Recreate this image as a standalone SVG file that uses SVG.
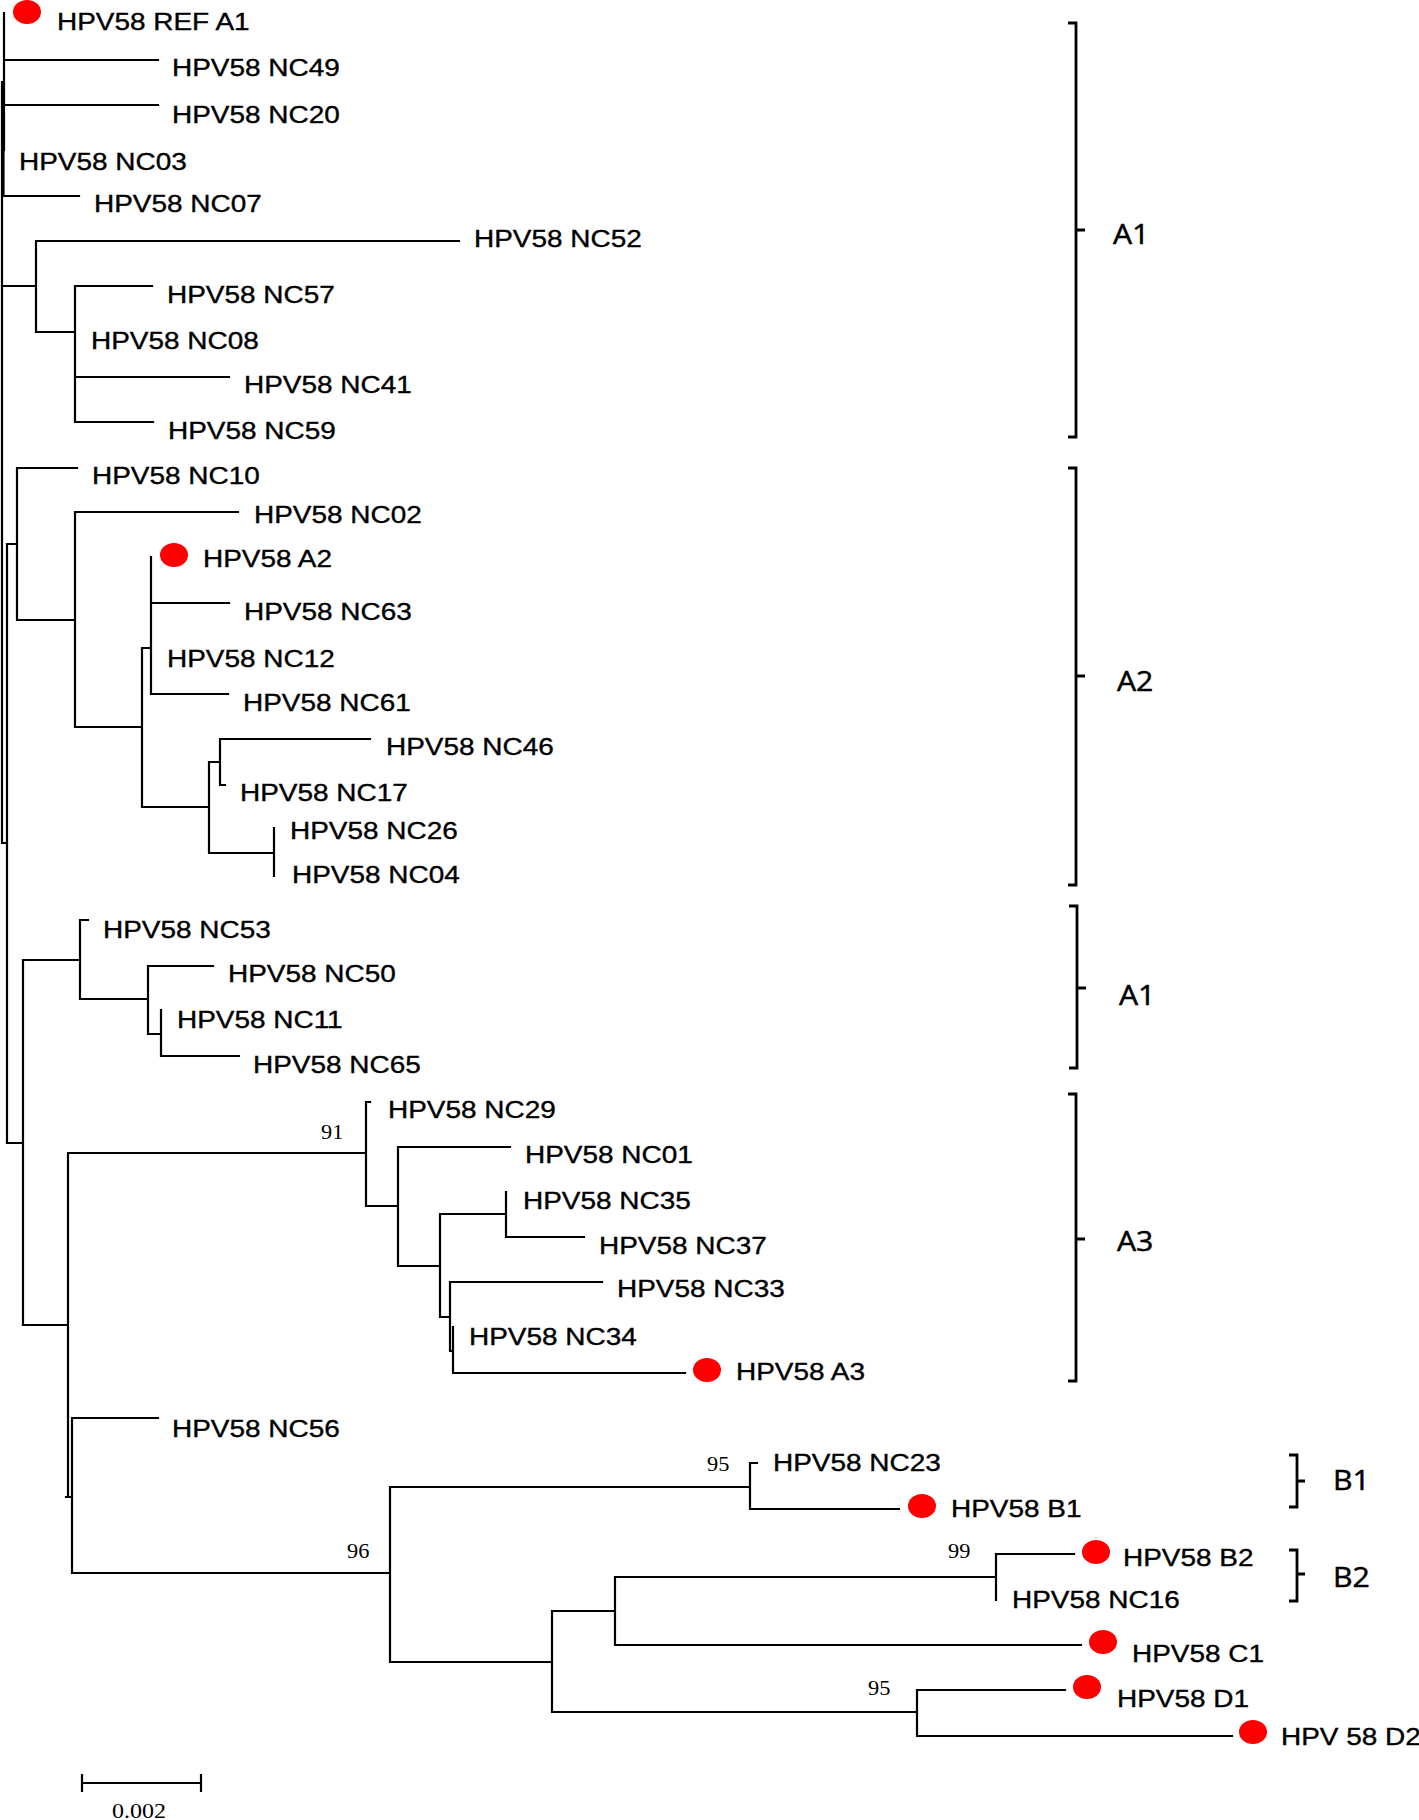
<svg xmlns="http://www.w3.org/2000/svg" width="1419" height="1820" viewBox="0 0 1419 1820">
<style>
.lbl{font-family:"Liberation Sans",Arial,sans-serif;font-size:23.3px;fill:#000;stroke:#000;stroke-width:0.35}
.br{font-family:"Open Sans","Liberation Sans",sans-serif;font-size:27px;fill:#000;stroke:#000;stroke-width:0.5}
.bs{font-family:"Liberation Serif","Times New Roman",serif;font-size:20px;fill:#000}
.ln{fill:none;stroke:#000;stroke-width:2.2;stroke-linecap:square}
.bk{fill:none;stroke:#000;stroke-width:2.8}
.dot{fill:#ff0000}
</style>
<rect width="1419" height="1820" fill="#fff"/>
<g id="connectors" class="ln">
<path d="M4 13 V150 M3.5 140 V196 M2 82 V843 H7 M4 60 H158 M4 105 H158 M2 196 H79"/>
<path d="M2 286 H36 M36 241 V332 M36 241 H459 M36 332 H75 M75 286 V422 M75 286 H152 M75 377 H229 M75 422 H153"/>
<path d="M7 544 V1143 M7 544 H17 M17 468 V620 M17 468 H77 M17 620 H75 M75 512 V727 M75 512 H238 M75 727 H142 M142 648 V807 M142 648 H151 M151 557 V694 M151 603 H229 M151 694 H228 M142 807 H209 M209 762 V853 M209 762 H220 M220 739 V785 M220 739 H370 M220 785 H225 M209 853 H274 M274 828 V876"/>
<path d="M7 1143 H23 M23 960 V1325 M23 960 H80 M80 920 V999 M80 920 H88 M80 999 H148 M148 966 V1034 M148 966 H213 M148 1034 H161 M161 1010 V1056 M161 1056 H239"/>
<path d="M23 1325 H68 M68 1153 V1497 M68 1153 H366 M366 1102 V1206 M366 1102 H370 M366 1206 H398 M398 1147 V1266 M398 1147 H510 M398 1266 H440 M440 1214 V1317 M440 1214 H506 M506 1192 V1237 M506 1237 H584 M440 1317 H450 M450 1282 V1351 M450 1282 H602 M450 1351 H453 M453 1327 V1373 M453 1373 H685"/>
<path d="M66 1497 H72 M72 1418 V1573 M72 1418 H158 M72 1573 H390 M390 1487 V1662 M390 1487 H750 M750 1463 V1509 M750 1463 H757 M750 1509 H899 M390 1662 H552 M552 1611 V1712 M552 1611 H615 M615 1577 V1645 M615 1577 H996 M996 1554 V1600 M996 1554 H1074 M615 1645 H1081 M552 1712 H917 M917 1690 V1736 M917 1690 H1065 M917 1736 H1232"/>
</g>
<g id="bootstrap">
<text class="bs" transform="translate(321 1139) scale(1.12 1)">91</text>
<text class="bs" transform="translate(347 1558) scale(1.12 1)">96</text>
<text class="bs" transform="translate(707 1471) scale(1.12 1)">95</text>
<text class="bs" transform="translate(948 1558) scale(1.12 1)">99</text>
<text class="bs" transform="translate(868 1695) scale(1.12 1)">95</text>
</g>
<g id="leaf-REF-A1"><ellipse class="dot" cx="27" cy="12" rx="14" ry="12"/><text class="lbl" transform="translate(57 30) scale(1.2 1)">HPV58 REF A1</text></g>
<g id="leaf-NC49"><text class="lbl" transform="translate(172 76) scale(1.2 1)">HPV58 NC49</text></g>
<g id="leaf-NC20"><text class="lbl" transform="translate(172 123) scale(1.2 1)">HPV58 NC20</text></g>
<g id="leaf-NC03"><text class="lbl" transform="translate(19 170) scale(1.2 1)">HPV58 NC03</text></g>
<g id="leaf-NC07"><text class="lbl" transform="translate(94 212) scale(1.2 1)">HPV58 NC07</text></g>
<g id="leaf-NC52"><text class="lbl" transform="translate(474 247) scale(1.2 1)">HPV58 NC52</text></g>
<g id="leaf-NC57"><text class="lbl" transform="translate(167 303) scale(1.2 1)">HPV58 NC57</text></g>
<g id="leaf-NC08"><text class="lbl" transform="translate(91 349) scale(1.2 1)">HPV58 NC08</text></g>
<g id="leaf-NC41"><text class="lbl" transform="translate(244 393) scale(1.2 1)">HPV58 NC41</text></g>
<g id="leaf-NC59"><text class="lbl" transform="translate(168 439) scale(1.2 1)">HPV58 NC59</text></g>
<g id="leaf-NC10"><text class="lbl" transform="translate(92 484) scale(1.2 1)">HPV58 NC10</text></g>
<g id="leaf-NC02"><text class="lbl" transform="translate(254 523) scale(1.2 1)">HPV58 NC02</text></g>
<g id="leaf-A2"><ellipse class="dot" cx="174" cy="555" rx="14" ry="12"/><text class="lbl" transform="translate(203 567) scale(1.2 1)">HPV58 A2</text></g>
<g id="leaf-NC63"><text class="lbl" transform="translate(244 620) scale(1.2 1)">HPV58 NC63</text></g>
<g id="leaf-NC12"><text class="lbl" transform="translate(167 667) scale(1.2 1)">HPV58 NC12</text></g>
<g id="leaf-NC61"><text class="lbl" transform="translate(243 711) scale(1.2 1)">HPV58 NC61</text></g>
<g id="leaf-NC46"><text class="lbl" transform="translate(386 755) scale(1.2 1)">HPV58 NC46</text></g>
<g id="leaf-NC17"><text class="lbl" transform="translate(240 801) scale(1.2 1)">HPV58 NC17</text></g>
<g id="leaf-NC26"><text class="lbl" transform="translate(290 839) scale(1.2 1)">HPV58 NC26</text></g>
<g id="leaf-NC04"><text class="lbl" transform="translate(292 883) scale(1.2 1)">HPV58 NC04</text></g>
<g id="leaf-NC53"><text class="lbl" transform="translate(103 938) scale(1.2 1)">HPV58 NC53</text></g>
<g id="leaf-NC50"><text class="lbl" transform="translate(228 982) scale(1.2 1)">HPV58 NC50</text></g>
<g id="leaf-NC11"><text class="lbl" transform="translate(177 1028) scale(1.2 1)">HPV58 NC11</text></g>
<g id="leaf-NC65"><text class="lbl" transform="translate(253 1073) scale(1.2 1)">HPV58 NC65</text></g>
<g id="leaf-NC29"><text class="lbl" transform="translate(388 1118) scale(1.2 1)">HPV58 NC29</text></g>
<g id="leaf-NC01"><text class="lbl" transform="translate(525 1163) scale(1.2 1)">HPV58 NC01</text></g>
<g id="leaf-NC35"><text class="lbl" transform="translate(523 1209) scale(1.2 1)">HPV58 NC35</text></g>
<g id="leaf-NC37"><text class="lbl" transform="translate(599 1254) scale(1.2 1)">HPV58 NC37</text></g>
<g id="leaf-NC33"><text class="lbl" transform="translate(617 1297) scale(1.2 1)">HPV58 NC33</text></g>
<g id="leaf-NC34"><text class="lbl" transform="translate(469 1345) scale(1.2 1)">HPV58 NC34</text></g>
<g id="leaf-A3"><ellipse class="dot" cx="707" cy="1370" rx="14" ry="12"/><text class="lbl" transform="translate(736 1380) scale(1.2 1)">HPV58 A3</text></g>
<g id="leaf-NC56"><text class="lbl" transform="translate(172 1437) scale(1.2 1)">HPV58 NC56</text></g>
<g id="leaf-NC23"><text class="lbl" transform="translate(773 1471) scale(1.2 1)">HPV58 NC23</text></g>
<g id="leaf-B1"><ellipse class="dot" cx="922" cy="1506" rx="14" ry="12"/><text class="lbl" transform="translate(951 1517) scale(1.2 1)">HPV58 B1</text></g>
<g id="leaf-B2"><ellipse class="dot" cx="1096" cy="1552" rx="14" ry="12"/><text class="lbl" transform="translate(1123 1566) scale(1.2 1)">HPV58 B2</text></g>
<g id="leaf-NC16"><text class="lbl" transform="translate(1012 1608) scale(1.2 1)">HPV58 NC16</text></g>
<g id="leaf-C1"><ellipse class="dot" cx="1103" cy="1642" rx="14" ry="12"/><text class="lbl" transform="translate(1132 1662) scale(1.2 1)">HPV58 C1</text></g>
<g id="leaf-D1"><ellipse class="dot" cx="1087" cy="1687" rx="14" ry="12"/><text class="lbl" transform="translate(1117 1707) scale(1.2 1)">HPV58 D1</text></g>
<g id="leaf-D2"><ellipse class="dot" cx="1253" cy="1732" rx="14" ry="12"/><text class="lbl" transform="translate(1281 1745) scale(1.2 1)">HPV 58 D2</text></g>
<g id="clade-brackets">
<path class="bk" d="M1068 23 H1076 V437 H1068 M1076 230 H1085"/>
<path class="bk" d="M1068 468 H1076 V885 H1068 M1076 676 H1085"/>
<path class="bk" d="M1069 906 H1077 V1068 H1069 M1077 988 H1086"/>
<path class="bk" d="M1068 1094 H1076 V1381 H1068 M1076 1239 H1085"/>
<path class="bk" d="M1289 1455 H1297 V1507 H1289 M1297 1481 H1305"/>
<path class="bk" d="M1289 1550 H1297 V1601 H1289 M1297 1574 H1305"/>
<text class="br" transform="translate(1113 244) scale(1.12 1)">A1</text>
<text class="br" transform="translate(1117 691) scale(1.12 1)">A2</text>
<text class="br" transform="translate(1119 1005) scale(1.12 1)">A1</text>
<text class="br" transform="translate(1117 1251) scale(1.12 1)">A3</text>
<text class="br" transform="translate(1333 1490) scale(1.12 1)">B1</text>
<text class="br" transform="translate(1333 1587) scale(1.12 1)">B2</text>
</g>
<g id="scale-bar">
<path class="ln" d="M82 1783 H201 M82 1775 V1791 M201 1775 V1791"/>
<text class="bs" transform="translate(112 1818) scale(1.2 1)">0.002</text>
</g>
</svg>
